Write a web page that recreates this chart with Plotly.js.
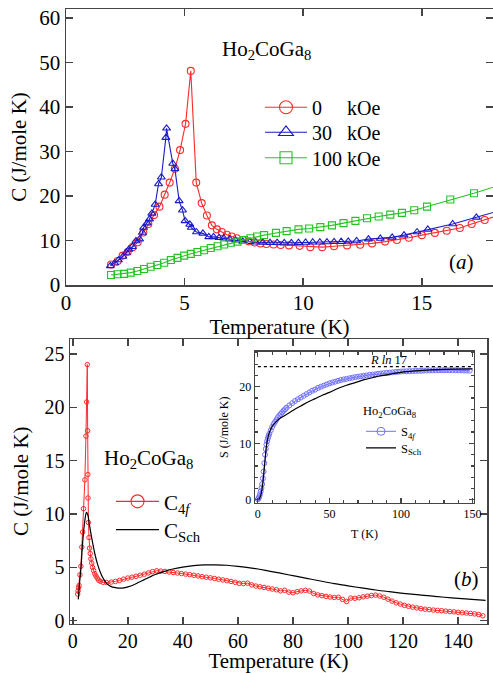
<!DOCTYPE html>
<html>
<head>
<meta charset="utf-8">
<script src="https://cdn.plot.ly/plotly-3.0.1.min.js"></script>
<style>html,body{margin:0;padding:0;background:#fff;}#chart{width:493px;height:673px;}</style>
</head>
<body>
<div id="chart"></div>
<script>
// ---------- Panel (a): C vs T at different fields ----------
var T_0kOe = [1.9, 2.18, 2.39, 2.6, 2.81, 3.02, 3.26, 3.47, 3.71, 3.94, 4.16, 4.37, 4.59, 4.81, 5.04, 5.26, 5.49, 5.72, 5.94, 6.15, 6.36, 6.57, 6.78, 6.99, 7.2, 7.45, 7.7, 7.95, 8.2, 8.45, 8.75, 9.05, 9.4, 9.85, 10.3, 10.8, 11.3, 11.85, 12.4, 12.9, 13.45, 13.95, 14.45, 15.0, 15.55, 16.05, 16.6, 17.1, 17.65, 18.2];
var C_0kOe = [4.6, 5.4, 6.6, 7.4, 8.5, 9.6, 11.8, 13.7, 15.7, 17.6, 20.3, 23.0, 26.1, 30.3, 36.2, 48.1, 23.0, 18.4, 15.6, 13.4, 12.5, 11.9, 11.3, 10.9, 10.5, 10.1, 9.8, 9.55, 9.35, 9.2, 9.1, 9.0, 8.9, 8.8, 8.5, 8.5, 8.7, 8.9, 9.05, 9.35, 9.75, 10.1, 10.6, 11.2, 11.7, 12.2, 12.8, 13.7, 14.6, 15.6];

var T_30kOe = [1.87, 2.05, 2.21, 2.4, 2.55, 2.65, 2.8, 2.95, 3.1, 3.22, 3.27, 3.42, 3.52, 3.62, 3.76, 3.9, 4.02, 4.21, 4.24, 4.5, 4.59, 4.77, 4.91, 5.02, 5.22, 5.28, 5.5, 5.77, 6.02, 6.22, 6.45, 6.65, 6.9, 7.15, 7.45, 7.75, 8.0, 8.3, 8.6, 8.9, 9.2, 9.5, 9.8, 10.1, 10.4, 10.7, 11.0, 11.3, 11.6, 11.9, 12.25, 12.75, 13.25, 13.75, 14.25, 14.8, 15.25, 16.3, 17.3, 18.2];
var C_30kOe = [4.3, 4.9, 5.6, 6.4, 7.3, 8.0, 8.6, 9.9, 10.3, 11.8, 12.9, 13.9, 14.8, 16.1, 18.1, 22.7, 24.2, 33.1, 35.2, 27.3, 26.1, 18.9, 16.8, 14.4, 13.6, 12.9, 11.9, 11.6, 10.8, 10.8, 10.6, 10.5, 10.3, 10.1, 9.8, 9.7, 9.6, 9.55, 9.5, 9.5, 9.45, 9.45, 9.5, 9.55, 9.6, 9.6, 9.65, 9.7, 9.75, 9.8, 9.9, 10.3, 10.45, 10.7, 11.2, 11.9, 12.5, 13.7, 15.2, 16.6];

var T_100kOe = [1.9, 2.17, 2.45, 2.73, 3.01, 3.29, 3.57, 3.85, 4.14, 4.42, 4.7, 4.98, 5.26, 5.54, 5.82, 6.1, 6.39, 6.67, 6.95, 7.23, 7.5, 7.78, 8.05, 8.35, 8.85, 9.3, 9.8, 10.25, 10.72, 11.21, 11.7, 12.2, 12.69, 13.18, 13.67, 14.16, 14.68, 15.22, 16.2, 17.2, 18.2];
var C_100kOe = [2.25, 2.4, 2.5, 2.78, 3.15, 3.6, 4.1, 4.5, 5.0, 5.6, 6.1, 6.6, 7.0, 7.4, 7.8, 8.3, 8.7, 9.1, 9.5, 9.75, 10.1, 10.5, 10.9, 11.2, 11.7, 12.1, 12.5, 12.7, 13.0, 13.4, 13.9, 14.4, 15.0, 15.4, 15.8, 16.2, 16.8, 17.6, 19.2, 20.6, 22.3];

// ---------- Panel (b): C_4f and Schottky ----------
var T_C4f = [1.8, 1.95, 2.1, 2.3, 2.6, 2.95, 3.3, 3.6, 3.9, 4.4, 4.8, 5.05, 5.28, 5.42, 5.48, 5.55, 5.7, 5.9, 6.1, 6.35, 6.6, 6.9, 7.2, 7.6, 8.0, 8.4, 8.9, 9.4, 10.0, 11.0, 12.3,
  14, 15.5, 17, 18.5, 20, 21.5, 23, 24.5, 26, 27.5, 29, 30.5, 32, 33.5, 35, 36.5, 38, 39.5, 41, 42.5, 44, 45.5, 47, 48.5, 50, 51.5, 53, 54.5, 56, 57.5, 59, 60.5, 62, 63.5, 65, 66.5, 68, 69.5, 71, 72.5, 74, 75.5, 77, 78.5, 80, 81.5, 83, 84.5, 86, 87.5, 89, 90.5, 92, 93.5, 95, 96.5, 98, 99.5, 101, 102.5, 104, 105.5, 107, 108.5, 110, 111.5, 113, 114.5, 116, 117.5, 119, 120.5, 122, 123.5, 125, 126.5, 128, 129.5, 131, 132.5, 134, 135.5, 137, 138.5, 140, 141.5, 143, 144.5, 146, 147.5, 149];
var C_C4f = [2.5, 2.8, 3.1, 3.3, 4.3, 5.1, 6.9, 8.3, 10.5, 13.2, 17.3, 20.5, 24.0, 17.8, 13.7, 11.5, 9.2, 7.8, 6.8, 6.3, 5.8, 5.4, 5.0, 4.7, 4.4, 4.2, 4.0, 3.8, 3.7, 3.6, 3.58,
  3.62, 3.68, 3.78, 3.9, 4.0, 4.08, 4.16, 4.26, 4.36, 4.48, 4.6, 4.68, 4.65, 4.62, 4.57, 4.52, 4.47, 4.42, 4.37, 4.32, 4.26, 4.2, 4.13, 4.08, 4.02, 3.96, 3.89, 3.82, 3.75, 3.68, 3.6, 3.5, 3.48, 3.52, 3.36, 3.25, 3.18, 3.12, 3.05, 2.97, 2.9, 2.8, 2.85, 2.68, 2.62, 2.72, 2.8, 2.85, 2.78, 2.55, 2.42, 2.35, 2.28, 2.22, 2.18, 2.2, 2.0, 1.8, 2.12, 2.1, 2.15, 2.24, 2.3, 2.36, 2.4, 2.32, 2.2, 2.02, 1.84, 1.68, 1.56, 1.44, 1.35, 1.27, 1.2, 1.13, 1.08, 1.04, 1.0, 0.97, 0.94, 0.9, 0.86, 0.83, 0.79, 0.75, 0.72, 0.68, 0.64, 0.58, 0.46];

var T_Sch = [2.0, 2.5, 3.0, 3.5, 4.0, 4.5, 5.0, 5.5, 6.0, 7.0, 8.0, 9.0, 10, 11, 12, 13, 14, 15, 16, 17, 18, 19, 20, 22, 24, 26, 28, 30, 33, 36, 40, 44, 48, 52, 56, 60, 65, 70, 75, 80, 85, 90, 95, 100, 105, 110, 115, 120, 125, 130, 135, 140, 145, 150];
var C_Sch = [2.0, 3.6, 5.0, 7.0, 8.5, 9.6, 10.15, 9.9, 9.1, 7.6, 6.3, 5.3, 4.55, 4.0, 3.6, 3.35, 3.2, 3.12, 3.07, 3.05, 3.06, 3.1, 3.17, 3.35, 3.6, 3.85, 4.1, 4.33, 4.6, 4.82, 5.03, 5.16, 5.23, 5.24, 5.2, 5.1, 4.93, 4.72, 4.48, 4.22, 3.97, 3.72, 3.48, 3.27, 3.07, 2.88, 2.72, 2.57, 2.44, 2.32, 2.2, 2.1, 2.0, 1.91];

// ---------- Inset: entropy ----------
var T_S4f = [0, 0.5, 1, 1.5, 2, 2.5, 3, 3.5, 4, 4.5, 5, 5.5, 6, 6.5, 7, 7.5, 8, 9, 10, 11, 12, 13, 14, 15, 16, 17, 18, 19, 20, 22, 24, 26, 28, 30, 32, 34, 36, 38, 40, 42, 44, 46, 48, 50, 52, 54, 56, 58, 60, 62, 64, 66, 68, 70, 72, 74, 76, 78, 80, 82, 84, 86, 88, 90, 92, 94, 96, 98, 100, 102, 104, 106, 108, 110, 112, 114, 116, 118, 120, 122, 124, 126, 128, 130, 132, 134, 136, 138, 140, 142, 144, 146, 148];
var S_4f = [0.1, 0.3, 0.6, 1.0, 1.5, 2.1, 2.8, 3.8, 5.0, 6.5, 8.0, 9.0, 9.8, 10.4, 10.9, 11.3, 11.7, 12.3, 12.9, 13.4, 13.8, 14.2, 14.6, 14.9, 15.2, 15.5, 15.8, 16.0, 16.3, 16.7, 17.1, 17.5, 17.8, 18.1, 18.4, 18.7, 19.0, 19.3, 19.5, 19.8, 20.0, 20.2, 20.4, 20.6, 20.75, 20.9, 21.05, 21.2, 21.3, 21.4, 21.5, 21.6, 21.7, 21.8, 21.85, 21.95, 22.0, 22.1, 22.15, 22.2, 22.3, 22.35, 22.4, 22.45, 22.5, 22.55, 22.6, 22.65, 22.7, 22.72, 22.74, 22.76, 22.78, 22.8, 22.82, 22.84, 22.86, 22.88, 22.9, 22.9, 22.92, 22.92, 22.93, 22.93, 22.93, 22.93, 22.92, 22.92, 22.9, 22.9, 22.88, 22.86, 22.85];

var T_SSch = [0, 1, 2, 3, 3.5, 4, 4.5, 5, 5.5, 6, 7, 8, 9, 10, 12, 14, 16, 18, 20, 25, 30, 35, 40, 45, 50, 55, 60, 65, 70, 75, 80, 85, 90, 95, 100, 110, 120, 130, 140, 150];
var S_Sch = [0, 0.2, 0.8, 2.0, 3.0, 4.2, 5.6, 7.0, 8.4, 9.6, 11.0, 11.9, 12.5, 13.0, 13.6, 14.1, 14.5, 14.8, 15.1, 15.9, 16.6, 17.3, 17.9, 18.5, 19.0, 19.6, 20.1, 20.5, 20.9, 21.3, 21.6, 21.9, 22.1, 22.35, 22.55, 22.8, 22.98, 23.08, 23.12, 23.15];

var T_Rln17 = [0, 150];
var S_Rln17 = [23.55, 23.55];

// ---------- labels ----------
var compound = 'Ho<sub>2</sub>CoGa<sub>8</sub>';
var NB = '\u00a0';
var fieldLabels = ['0' + NB.repeat(5) + 'kOe', '30' + NB.repeat(3) + 'kOe', '100' + NB + 'kOe'];
var bLabels = ['C<sub>4<i>f</i></sub>', 'C<sub>Sch</sub>'];
var insetLabels = ['S<sub>4<i>f</i></sub>', 'S<sub>Sch</sub>'];

var FONT = '"Liberation Serif", "Times New Roman", Times, serif';
var W = 493, H = 673;
function px(x) { return x / W; }
function py(y) { return 1 - y / H; }

var RED = '#ff2a2a', BLUE = '#1a1acc', GREEN = '#22c422', VIOLET = '#7272ff';

var traces = [
  {x: T_0kOe, y: C_0kOe, xaxis: 'x', yaxis: 'y', showlegend: false, mode: 'lines+markers',
   line: {color: RED, width: 1.1}, marker: {symbol: 'circle-open', size: 7, color: RED, line: {width: 1.1}}},
  {x: T_30kOe, y: C_30kOe, xaxis: 'x', yaxis: 'y', showlegend: false, mode: 'lines+markers',
   line: {color: BLUE, width: 1.1}, marker: {symbol: 'triangle-up-open', size: 7, color: BLUE, line: {width: 1.1}}},
  {x: T_100kOe, y: C_100kOe, xaxis: 'x', yaxis: 'y', showlegend: false, mode: 'lines+markers',
   line: {color: GREEN, width: 1.1}, marker: {symbol: 'square-open', size: 7, color: GREEN, line: {width: 1.1}}},
  {x: T_C4f, y: C_C4f, xaxis: 'x2', yaxis: 'y2', showlegend: false, mode: 'lines+markers',
   line: {color: RED, width: 1}, marker: {symbol: 'circle-open', size: 4.5, color: RED, line: {width: 1}}},
  {x: T_Sch, y: C_Sch, xaxis: 'x2', yaxis: 'y2', showlegend: false, mode: 'lines',
   line: {color: '#000', width: 1.2, shape: 'spline'}},
  {x: T_S4f, y: S_4f, xaxis: 'x3', yaxis: 'y3', showlegend: false, mode: 'lines+markers',
   line: {color: VIOLET, width: 1}, marker: {symbol: 'circle-open', size: 5, color: VIOLET, line: {width: 1}}},
  {x: T_SSch, y: S_Sch, xaxis: 'x3', yaxis: 'y3', showlegend: false, mode: 'lines',
   line: {color: '#000', width: 1.2, shape: 'spline'}},
  {x: T_Rln17, y: S_Rln17, xaxis: 'x3', yaxis: 'y3', showlegend: false, mode: 'lines',
   line: {color: '#000', width: 1.2, dash: 'dot'}}
];

// legend entries (each in its own legend box so rows can be placed like the original)
function legendEntry(name, legendId, mode, color, symbol, msize, lw) {
  var t = {x: [null], y: [null], name: name, legend: legendId, showlegend: true, mode: mode,
    line: {color: color, width: lw}, hoverinfo: 'skip'};
  if (symbol) t.marker = {symbol: symbol, size: msize, color: color, line: {width: lw}};
  return t;
}
traces.push(legendEntry(fieldLabels[0], 'legend', 'lines+markers', RED, 'circle-open', 13, 1.1));
traces.push(legendEntry(fieldLabels[1], 'legend2', 'lines+markers', BLUE, 'triangle-up-open', 13, 1.1));
traces.push(legendEntry(fieldLabels[2], 'legend3', 'lines+markers', GREEN, 'square-open', 12, 1.1));
traces.push(legendEntry(bLabels[0], 'legend4', 'lines+markers', RED, 'circle-open', 13, 1.1));
traces.push(legendEntry(bLabels[1], 'legend5', 'lines', '#000', null, 0, 1.2));
traces.push(legendEntry(insetLabels[0], 'legend6', 'lines+markers', VIOLET, 'circle-open', 8, 1));
traces.push(legendEntry(insetLabels[1], 'legend7', 'lines', '#000', null, 0, 1.2));

function axisBase(extra) {
  var a = {showline: true, linecolor: '#444', linewidth: 1.5, mirror: 'ticks', ticks: 'inside', ticklen: 7,
    tickcolor: '#444', tickwidth: 1.5, showgrid: false, zeroline: false, automargin: false,
    tickfont: {family: FONT, size: 21, color: '#000'}};
  for (var k in extra) a[k] = extra[k];
  return a;
}
function legendBox(xLine, yCenter, size, iw) {
  return {x: px(xLine - 5), y: py(yCenter), xanchor: 'left', yanchor: 'middle', bgcolor: 'rgba(0,0,0,0)',
    borderwidth: 0, itemwidth: iw, itemsizing: 'trace',
    font: {family: FONT, size: size, color: '#000'}};
}

var layout = {
  width: W, height: H,
  margin: {l: 0, r: 0, t: 0, b: 0},
  paper_bgcolor: '#fff', plot_bgcolor: 'rgba(0,0,0,0)',
  font: {family: FONT, color: '#000'},
  xaxis: axisBase({domain: [px(66), 1], anchor: 'y', range: [0, 18], dtick: 5, tick0: 0, ticklabelstandoff: -2,
    title: {text: 'Temperature (K)', font: {family: FONT, size: 21}, standoff: 0}}),
  yaxis: axisBase({domain: [py(285), py(9)], anchor: 'x', range: [0, 62], dtick: 10, tick0: 0,
    title: {text: 'C (J/mole K)', font: {family: FONT, size: 21}, standoff: 7}}),
  xaxis2: axisBase({domain: [px(70), px(487)], anchor: 'y2', range: [-1, 150.5], dtick: 20, tick0: 0,
    ticklabelstandoff: -1,
    tickfont: {family: FONT, size: 20, color: '#000'},
    title: {text: 'Temperature (K)', font: {family: FONT, size: 21}, standoff: 5}}),
  yaxis2: axisBase({domain: [py(623.5), py(339)], anchor: 'x2', range: [-0.26, 26.4], dtick: 5, tick0: 0,
    tickfont: {family: FONT, size: 20, color: '#000'},
    title: {text: 'C (J/mole K)', font: {family: FONT, size: 21}, standoff: 10}}),
  xaxis3: axisBase({domain: [px(255), px(474)], anchor: 'y3', range: [-2, 151], dtick: 50, tick0: 0, ticklen: 5,
    linewidth: 1.3, tickwidth: 1.2,
    minor: {dtick: 10, ticklen: 3, ticks: 'inside', tickcolor: '#444'},
    tickfont: {family: FONT, size: 12, color: '#000'},
    title: {text: 'T (K)', font: {family: FONT, size: 12}, standoff: 9}}),
  yaxis3: axisBase({domain: [py(502.7), py(351.7)], anchor: 'x3', range: [-0.5, 26.2], dtick: 10, tick0: 0, ticklen: 5,
    linewidth: 1.3, tickwidth: 1.2,
    minor: {dtick: 2, ticklen: 3, ticks: 'inside', tickcolor: '#444'},
    tickfont: {family: FONT, size: 12, color: '#000'},
    title: {text: 'S (J/mole K)', font: {family: FONT, size: 12}, standoff: 8}}),
  legend: legendBox(265, 107.3, 20, 42),
  legend2: legendBox(265, 132.3, 20, 42),
  legend3: legendBox(265, 157.7, 20, 42),
  legend4: legendBox(116, 501.7, 21, 43),
  legend5: legendBox(116, 530, 21, 43),
  legend6: legendBox(366, 431.7, 12.5, 30),
  legend7: legendBox(366, 448.3, 12.5, 30),
  annotations: [
    {text: compound, xref: 'paper', yref: 'paper', x: px(266), y: py(50), xanchor: 'center', yanchor: 'middle', showarrow: false, font: {family: FONT, size: 21}},
    {text: '(<i>a</i>)', xref: 'paper', yref: 'paper', x: px(461), y: py(262), xanchor: 'center', yanchor: 'middle', showarrow: false, font: {family: FONT, size: 21}},
    {text: compound, xref: 'paper', yref: 'paper', x: px(148), y: py(459), xanchor: 'center', yanchor: 'middle', showarrow: false, font: {family: FONT, size: 21}},
    {text: '(<i>b</i>)', xref: 'paper', yref: 'paper', x: px(466), y: py(579), xanchor: 'center', yanchor: 'middle', showarrow: false, font: {family: FONT, size: 21}},
    {text: compound, xref: 'paper', yref: 'paper', x: px(390), y: py(412), xanchor: 'center', yanchor: 'middle', showarrow: false, font: {family: FONT, size: 12.5}},
    {text: '<i>R ln</i> 17', xref: 'paper', yref: 'paper', x: px(388), y: py(360), xanchor: 'center', yanchor: 'middle', showarrow: false, font: {family: FONT, size: 12.5}}
  ]
};

Plotly.newPlot('chart', traces, layout, {displayModeBar: false, staticPlot: true});
</script>
</body>
</html>
